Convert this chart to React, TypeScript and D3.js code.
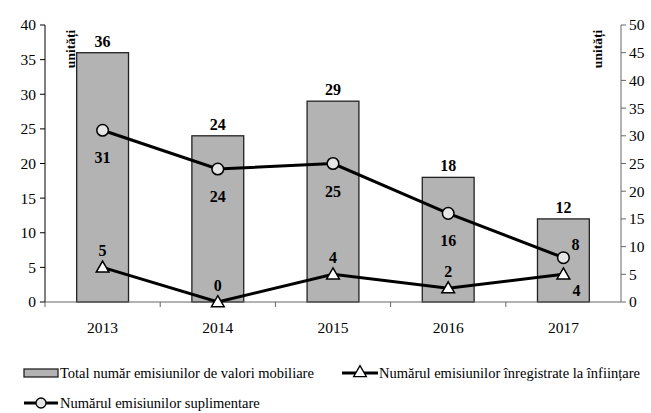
import React from "react";
import * as d3 from "d3";

const years = ["2013", "2014", "2015", "2016", "2017"];
const totalIssues = [36, 24, 29, 18, 12];
const registeredAtFounding = [5, 0, 4, 2, 4];
const supplementaryIssues = [31, 24, 25, 16, 8];
const leftTicks = [0, 5, 10, 15, 20, 25, 30, 35, 40];
const rightTicks = [0, 5, 10, 15, 20, 25, 30, 35, 40, 45, 50];
const unitLabel = "unități";
const legendLabels = [
  "Total număr emisiunilor de valori mobiliare",
  "Numărul emisiunilor înregistrate la înființare",
  "Numărul emisiunilor suplimentare",
];

const W = 651;
const H = 413;
const left = 45;
const right = 621;
const top = 25;
const bottom = 302;
const font = "'Liberation Serif', 'Times New Roman', serif";

export default function App() {
  const x = d3.scaleBand<string>().domain(years).range([left, right]).paddingInner(0.55).paddingOuter(0.275);
  const yL = d3.scaleLinear().domain([0, 40]).range([bottom, top]);
  const yR = d3.scaleLinear().domain([0, 50]).range([bottom, top]);
  const cx = (y: string) => (x(y) as number) + x.bandwidth() / 2;
  const step = x.step();

  const triLine = d3.line<number>().x((_, i) => cx(years[i])).y((d) => yL(d));
  const circLine = d3.line<number>().x((_, i) => cx(years[i])).y((d) => yR(d));
  const tri = d3.symbol().type(d3.symbolTriangle).size(70)();

  const circLabel = (i: number) =>
    i === 4 ? { dx: 12, dy: -8 } : { dx: 0, dy: 33 };
  const triLabel = (i: number) =>
    i === 4 ? { dx: 13, dy: 22 } : { dx: 0, dy: -11 };

  return (
    <svg width={W} height={H} style={{ position: "absolute", left: 0, top: 0, background: "#fff" }} fontFamily={font}>
      {/* bars */}
      {totalIssues.map((v, i) => (
        <rect key={"b" + i} x={x(years[i])} y={yL(v)} width={x.bandwidth()} height={bottom - yL(v)}
          fill="#b3b3b3" stroke="#222" strokeWidth={1.3} />
      ))}
      {totalIssues.map((v, i) => (
        <text key={"bl" + i} x={cx(years[i])} y={yL(v) - 6} textAnchor="middle" fontWeight="bold" fontSize={16}>{v}</text>
      ))}

      {/* left axis */}
      <line x1={left} x2={left} y1={top} y2={bottom} stroke="#000" strokeWidth={1} />
      {leftTicks.map((t) => (
        <g key={"lt" + t}>
          <line x1={left - 5} x2={left} y1={yL(t)} y2={yL(t)} stroke="#000" />
          <text x={left - 9} y={yL(t)} dy="0.35em" textAnchor="end" fontSize={15.5}>{t}</text>
        </g>
      ))}
      {/* right axis */}
      <line x1={right} x2={right} y1={top} y2={bottom} stroke="#666" strokeWidth={1} />
      {rightTicks.map((t) => (
        <g key={"rt" + t}>
          <line x1={right} x2={right + 5} y1={yR(t)} y2={yR(t)} stroke="#666" />
          <text x={right + 8} y={yR(t)} dy="0.35em" textAnchor="start" fontSize={15.5}>{t}</text>
        </g>
      ))}
      {/* x axis */}
      <line x1={left} x2={right} y1={bottom} y2={bottom} stroke="#666" strokeWidth={1} />
      {years.map((yr, i) => (
        <g key={"xt" + yr}>
          <line x1={left + step * i} x2={left + step * i} y1={bottom} y2={bottom + 5} stroke="#666" />
          <text x={cx(yr)} y={bottom + 31} textAnchor="middle" fontSize={15.5}>{yr}</text>
        </g>
      ))}

      {/* unit labels */}
      <text transform={`translate(75,49) rotate(-90)`} textAnchor="middle" fontWeight="bold" fontSize={13.5}>{unitLabel}</text>
      <text transform={`translate(602,49) rotate(-90)`} textAnchor="middle" fontWeight="bold" fontSize={13.5}>{unitLabel}</text>

      {/* lines */}
      <path d={triLine(registeredAtFounding) as string} fill="none" stroke="#000" strokeWidth={3} />
      <path d={circLine(supplementaryIssues) as string} fill="none" stroke="#000" strokeWidth={3} />
      {registeredAtFounding.map((v, i) => (
        <path key={"tm" + i} d={tri as string} transform={`translate(${cx(years[i])},${yL(v) + 1})`}
          fill="#fff" stroke="#000" strokeWidth={1.5} />
      ))}
      {supplementaryIssues.map((v, i) => (
        <circle key={"cm" + i} cx={cx(years[i])} cy={yR(v)} r={5.8} fill="#e6e6e6" stroke="#000" strokeWidth={1.5} />
      ))}
      {registeredAtFounding.map((v, i) => (
        <text key={"tl" + i} x={cx(years[i]) + triLabel(i).dx} y={yL(v) + triLabel(i).dy} textAnchor="middle" fontWeight="bold" fontSize={16}>{v}</text>
      ))}
      {supplementaryIssues.map((v, i) => (
        <text key={"cl" + i} x={cx(years[i]) + circLabel(i).dx} y={yR(v) + circLabel(i).dy} textAnchor="middle" fontWeight="bold" fontSize={16}>{v}</text>
      ))}

      {/* legend */}
      <rect x={24} y={369} width={34} height={8} fill="#b3b3b3" stroke="#222" strokeWidth={1.3} />
      <text x={60} y={378} fontSize={14.5}>{legendLabels[0]}</text>
      <line x1={342} x2={378} y1={373} y2={373} stroke="#000" strokeWidth={3} />
      <path d={tri as string} transform="translate(360,373)" fill="#fff" stroke="#000" strokeWidth={1.3} />
      <text x={379} y={378} fontSize={14.5}>{legendLabels[1]}</text>
      <line x1={24} x2={58} y1={403} y2={403} stroke="#000" strokeWidth={3} />
      <circle cx={41} cy={403} r={5} fill="#e6e6e6" stroke="#000" strokeWidth={1.3} />
      <text x={60} y={408} fontSize={14.5}>{legendLabels[2]}</text>
    </svg>
  );
}
